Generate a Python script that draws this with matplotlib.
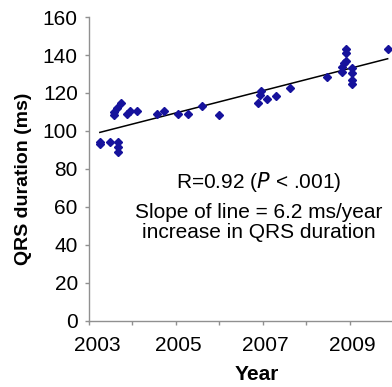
import numpy as np
import matplotlib.pyplot as plt
import matplotlib.transforms as mtransforms

plt.rcParams['font.family'] = ['Liberation Sans', 'DejaVu Sans']

years = [2003.25, 2003.25, 2003.48, 2003.66, 2003.66, 2003.66,
         2003.58, 2003.58, 2003.64, 2003.74, 2003.87, 2003.94,
         2004.11, 2004.56, 2004.73, 2005.05, 2005.28, 2005.61,
         2005.99, 2006.88, 2006.93, 2006.95, 2007.09, 2007.31,
         2007.63, 2008.48, 2008.82, 2008.83, 2008.86, 2008.91,
         2008.92, 2008.92, 2009.06, 2009.06, 2009.06, 2009.06,
         2009.87]
qrs_ms = [94.4, 93.0, 94.4, 94.4, 91.4, 89.1,
          110.2, 108.4, 111.9, 114.6, 108.9, 110.7,
          110.7, 108.8, 110.7, 108.8, 108.8, 113.2,
          108.4, 114.6, 118.9, 121.0, 116.8, 118.4,
          122.8, 128.2, 131.2, 133.8, 135.6, 136.8,
          140.9, 143.2, 132.9, 130.4, 126.8, 124.6,
          143.2]

year_ticks = [2003, 2004, 2005, 2006, 2007, 2008, 2009]
year_labels = ["2003", "", "2005", "", "2007", "", "2009"]
qrs_ticks = [0, 20, 40, 60, 80, 100, 120, 140, 160]

fig = plt.figure(figsize=(3.92, 3.87), dpi=100)
ax = fig.add_axes([0.227, 0.171, 0.773, 0.785])

x = np.array(years)
y = np.array(qrs_ms)

# linear fit
slope, intercept = np.polyfit(x, y, 1)
xs = np.array([x.min(), x.max()])
ax.plot(xs, slope * xs + intercept, color="black", lw=1.1, zorder=2)

ax.plot(x, y, linestyle="none", marker="D", markersize=4.0,
        color="#16129c", zorder=3)

ax.set_xlim(2003, 2009.97)
ax.set_ylim(0, 160)
ax.set_xticks(year_ticks)
ax.set_xticklabels(year_labels)
ax.set_yticks(qrs_ticks)

for side in ["top", "right"]:
    ax.spines[side].set_visible(False)
for side in ["left", "bottom"]:
    ax.spines[side].set_color("#909090")
    ax.spines[side].set_linewidth(1.0)

ax.tick_params(axis="both", colors="#909090", labelcolor="black",
               labelsize=15, length=3, width=1)
ax.tick_params(axis="y", pad=5)
ax.tick_params(axis="x", pad=8)

# nudge the year labels right a little, the first one more (as in the original)
for i, lab in enumerate(ax.get_xticklabels()):
    dx = 8 if i == 0 else 2
    lab.set_transform(lab.get_transform() +
                      mtransforms.ScaledTranslation(dx / 100, 0, fig.dpi_scale_trans))

ax.set_xlabel("Year", fontsize=15, fontweight="bold")
ax.set_ylabel("QRS duration (ms)", fontsize=14, fontweight="bold")
ax.xaxis.label.set_va("center")
ax.yaxis.label.set_va("center")
ax.xaxis.set_label_coords(0.554, -0.178)
ax.yaxis.set_label_coords(-0.215, 0.469)

fig.text(0.661, 0.530, r"R=0.92 ($\it{P}$ < .001)",
         ha="center", va="center", fontsize=15)
fig.text(0.661, 0.425, "Slope of line = 6.2 ms/year\nincrease in QRS duration",
         ha="center", va="center", fontsize=15, linespacing=1.05)

fig.savefig("out.png", dpi=100)
